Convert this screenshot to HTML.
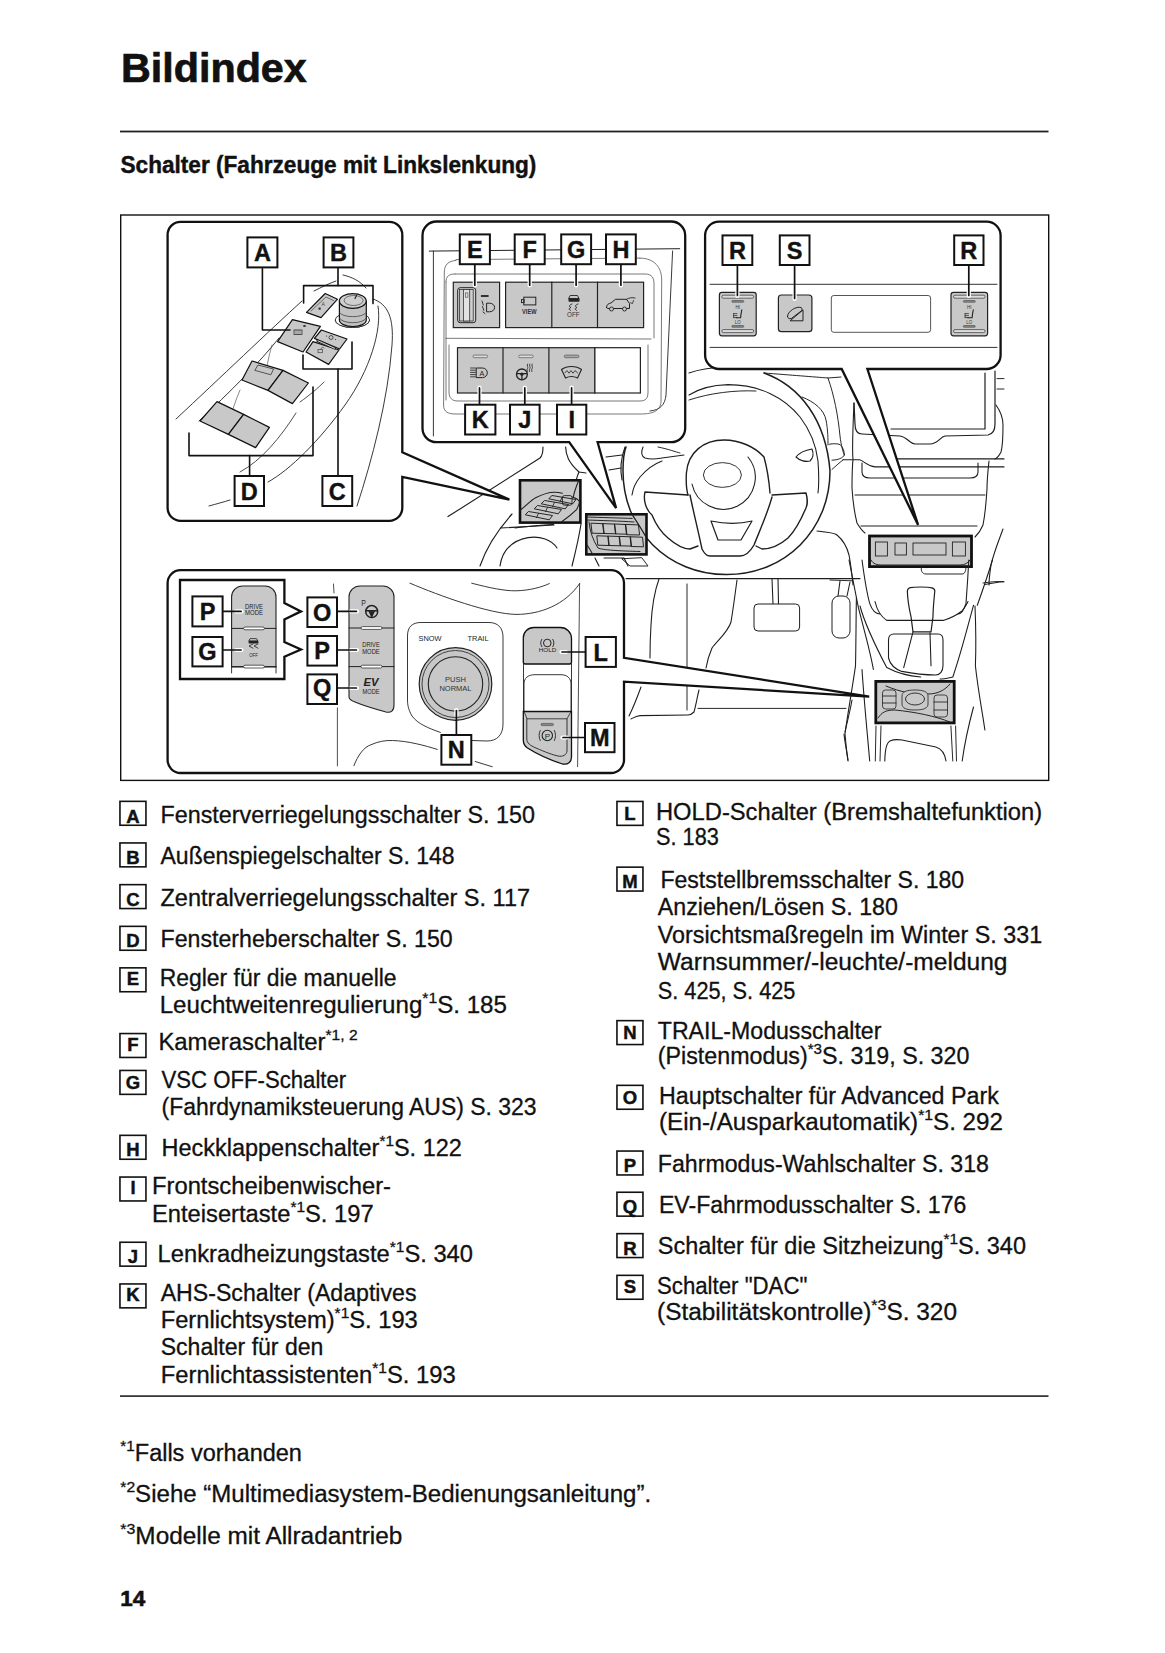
<!DOCTYPE html>
<html><head><meta charset="utf-8"><title>Bildindex</title>
<style>
html,body{margin:0;padding:0;background:#fff;}
body{width:1165px;height:1653px;overflow:hidden;font-family:"Liberation Sans", sans-serif;}
svg{display:block;font-family:"Liberation Sans", sans-serif;}
</style></head><body>
<svg width="1165" height="1653" viewBox="0 0 1165 1653">
<text x="121" y="81.8" font-size="41" font-weight="bold" fill="#111" stroke="#111" stroke-width="0.7" textLength="185.8" lengthAdjust="spacingAndGlyphs" xml:space="preserve"><tspan>Bildindex</tspan></text>
<rect x="120" y="130.6" width="928.5" height="1.8" fill="#222"/>
<text x="120.5" y="172.8" font-size="23.5" font-weight="bold" fill="#111" stroke="#111" stroke-width="0.45" textLength="415.9" lengthAdjust="spacingAndGlyphs" xml:space="preserve"><tspan>Schalter (Fahrzeuge mit Linkslenkung)</tspan></text>
<rect x="120.7" y="215" width="928" height="565.4" fill="none" stroke="#111" stroke-width="1.4"/>
<path d="M543,447 C543,452 542,456 540,458 L448,516.6" fill="none" stroke="#1e1e1e" stroke-width="1.14" stroke-linejoin="round" stroke-linecap="round"/>
<path d="M565.6,447 C566,455 568,462 579,472 L586,473" fill="none" stroke="#1e1e1e" stroke-width="1.14" stroke-linejoin="round" stroke-linecap="round"/>
<path d="M579,472 C576,478 575,485 574,492" fill="none" stroke="#1e1e1e" stroke-width="1.14" stroke-linejoin="round" stroke-linecap="round"/>
<path d="M500.5,528 L554,525" fill="none" stroke="#1e1e1e" stroke-width="1.14" stroke-linejoin="round" stroke-linecap="round"/>
<path d="M480,566 C486,548 496,532 512,514" fill="none" stroke="#1e1e1e" stroke-width="1.14" stroke-linejoin="round" stroke-linecap="round"/>
<path d="M500,566 C502,552 510,541 528,537.6 C540,535.5 552,540 557,548" fill="none" stroke="#1e1e1e" stroke-width="1.14" stroke-linejoin="round" stroke-linecap="round"/>
<path d="M572,566 C576,550 579,537 581,524" fill="none" stroke="#1e1e1e" stroke-width="1.14" stroke-linejoin="round" stroke-linecap="round"/>
<path d="M606,457 L622,455 M609,470 L621,468" fill="none" stroke="#1e1e1e" stroke-width="1.14" stroke-linejoin="round" stroke-linecap="round"/>
<path d="M625,447 C621,458 620,470 622,480" fill="none" stroke="#1e1e1e" stroke-width="1.14" stroke-linejoin="round" stroke-linecap="round"/>
<path d="M595,558 L599,566 M604,558 L624,558 L628,566" fill="none" stroke="#1e1e1e" stroke-width="1.14" stroke-linejoin="round" stroke-linecap="round"/>
<path d="M689,373 C700,369 710,367 726.5,367.5" fill="none" stroke="#1e1e1e" stroke-width="1.08" stroke-linejoin="round" stroke-linecap="round"/>
<path d="M764,373 C800,386 826,420 830,471 C830,530 785,574.6 726.5,574.6 C668,574.6 623,530 623,471 C623,458 624,452 626,447" fill="none" stroke="#1e1e1e" stroke-width="1.50" stroke-linejoin="round" stroke-linecap="round"/>
<path d="M689,395 C700,388 712,385 728,384.6 C760,384.6 785,398 800,417 C810,430 816,445 818,461 C819,475 819,485 818,493" fill="none" stroke="#1e1e1e" stroke-width="1.08" stroke-linejoin="round" stroke-linecap="round"/>
<path d="M689,400 C710,393 735,390 756,391" fill="none" stroke="#1e1e1e" stroke-width="0.96" stroke-linejoin="round" stroke-linecap="round"/>
<path d="M632,495 C633,488 636,482 640,477 C646,470 654,464 662,461" fill="none" stroke="#1e1e1e" stroke-width="1.08" stroke-linejoin="round" stroke-linecap="round"/>
<path d="M688,495 C686,488 686,480 686.4,473 C688,452 704,440 724,440 C740,440 755,447 764,457 C767,468 769,480 770,493" fill="none" stroke="#1e1e1e" stroke-width="1.38" stroke-linejoin="round" stroke-linecap="round"/>
<path d="M692,484 A32,32 0 1 0 748,457" fill="none" stroke="#1e1e1e" stroke-width="1.08" stroke-linejoin="round" stroke-linecap="round"/>
<ellipse cx="722.4" cy="475" rx="19" ry="12.4" fill="none" stroke="#1e1e1e" stroke-width="0.9"/>
<path d="M688,495 L645,492 C643,500 646,510 652,515 C656,525 662,533 668,538 C676,545 684,549 690,549 L698,546" fill="none" stroke="#1e1e1e" stroke-width="1.38" stroke-linejoin="round" stroke-linecap="round"/>
<path d="M772,495 L806,493 C808,500 807,506 806,508 C800,522 794,532 788,538 C780,545 770,549 762,549 L756,546" fill="none" stroke="#1e1e1e" stroke-width="1.38" stroke-linejoin="round" stroke-linecap="round"/>
<path d="M690,495 C693,510 698,530 702,549 C704,553 706,556 710,556 H740 C746,556 750,552 754,545 C760,530 768,512 772,497" fill="none" stroke="#1e1e1e" stroke-width="1.38" stroke-linejoin="round" stroke-linecap="round"/>
<path d="M711,521 C725,524 740,524 752,521 L741,540 H718 Z" fill="none" stroke="#1e1e1e" stroke-width="1.20" stroke-linejoin="round" stroke-linecap="round"/>
<path d="M643,447 C641,452 641,456 645,458 C652,460 656,459 662,458 L684,455" fill="none" stroke="#1e1e1e" stroke-width="1.08" stroke-linejoin="round" stroke-linecap="round"/>
<path d="M658,447 C668,449 676,452 680,453" fill="none" stroke="#1e1e1e" stroke-width="0.96" stroke-linejoin="round" stroke-linecap="round"/>
<path d="M796,457 C800,452 806,450 812,449 C814,454 813,458 810,461 C806,462 800,461 796,457" fill="none" stroke="#1e1e1e" stroke-width="1.08" stroke-linejoin="round" stroke-linecap="round"/>
<path d="M764,373 C790,375 815,377 828,378 L841,377" fill="none" stroke="#1e1e1e" stroke-width="0.96" stroke-linejoin="round" stroke-linecap="round"/>
<path d="M802,397 C815,402 824,410 826,420 C828,430 828,440 828,445" fill="none" stroke="#1e1e1e" stroke-width="0.96" stroke-linejoin="round" stroke-linecap="round"/>
<path d="M626,578.6 H860" fill="none" stroke="#1e1e1e" stroke-width="1.08" stroke-linejoin="round" stroke-linecap="round"/>
<path d="M622,559 L630,566 L648,566 L642,558 Z" fill="none" stroke="#1e1e1e" stroke-width="0.96" stroke-linejoin="round" stroke-linecap="round"/>
<path d="M659,579 C655,590 652,605 651,625 C650,640 650,650 650,658" fill="none" stroke="#1e1e1e" stroke-width="1.08" stroke-linejoin="round" stroke-linecap="round"/>
<path d="M641,687 C637,698 633,708 629,716" fill="none" stroke="#1e1e1e" stroke-width="1.08" stroke-linejoin="round" stroke-linecap="round"/>
<path d="M687,584 V710" fill="none" stroke="#1e1e1e" stroke-width="0.96" stroke-linejoin="round" stroke-linecap="round"/>
<path d="M737,580 C735,595 733,610 731,622 C728,632 718,640 712,648 C709,655 707,662 706,668" fill="none" stroke="#1e1e1e" stroke-width="1.08" stroke-linejoin="round" stroke-linecap="round"/>
<path d="M699,690 C697,698 696,705 694,712 C692,714 690,715 688,715 L640,715.6 C636,716 633,718 631,719" fill="none" stroke="#1e1e1e" stroke-width="1.08" stroke-linejoin="round" stroke-linecap="round"/>
<path d="M698,708.4 H846" fill="none" stroke="#1e1e1e" stroke-width="0.96" stroke-linejoin="round" stroke-linecap="round"/>
<path d="M772,579 L773,604 M778,579 L778.5,604" fill="none" stroke="#1e1e1e" stroke-width="1.08" stroke-linejoin="round" stroke-linecap="round"/>
<rect x="754" y="604" width="45.6" height="27" rx="4" fill="#fff" stroke="#1e1e1e" stroke-width="1"/>
<path d="M840,581 L838,596 M850,582 L847,596" fill="none" stroke="#1e1e1e" stroke-width="1.08" stroke-linejoin="round" stroke-linecap="round"/>
<rect x="832" y="596" width="18" height="42" rx="7" fill="#fff" stroke="#1e1e1e" stroke-width="1"/>
<path d="M852,700 C850,712 847,722 845,732" fill="none" stroke="#1e1e1e" stroke-width="1.08" stroke-linejoin="round" stroke-linecap="round"/>
<path d="M844,734 C845,744 847,752 848,760" fill="none" stroke="#1e1e1e" stroke-width="1.08" stroke-linejoin="round" stroke-linecap="round"/>
<path d="M985,373 V429 H891" fill="none" stroke="#1e1e1e" stroke-width="1.20" stroke-linejoin="round" stroke-linecap="round"/>
<path d="M995,371 V424 C995,430 993,434 988,435 L945,436 C940,437 938,444 930,444 H915 C910,444 907,437 900,436 L862,434 C857,434 855,430 855,424 L854,403" fill="none" stroke="#1e1e1e" stroke-width="1.20" stroke-linejoin="round" stroke-linecap="round"/>
<path d="M996,405 C1001,412 1003,418 1003,425 C1003,436 1003,445 1001,452 C999,456 997,458 995,459" fill="none" stroke="#1e1e1e" stroke-width="1.08" stroke-linejoin="round" stroke-linecap="round"/>
<path d="M997,378.6 H1004 M997,389 H1004" fill="none" stroke="#1e1e1e" stroke-width="0.96" stroke-linejoin="round" stroke-linecap="round"/>
<path d="M843,459.7 H859.7 C864,461 867,466 875,466.9 L1004,466.9" fill="none" stroke="#1e1e1e" stroke-width="1.08" stroke-linejoin="round" stroke-linecap="round"/>
<path d="M896,458.9 H1004" fill="none" stroke="#1e1e1e" stroke-width="1.08" stroke-linejoin="round" stroke-linecap="round"/>
<path d="M828,378 C834,395 838,415 840,436 C841,445 843,452 844.3,455" fill="none" stroke="#1e1e1e" stroke-width="0.96" stroke-linejoin="round" stroke-linecap="round"/>
<path d="M829.4,444.2 C833,443.5 838,443.5 840.2,444.7 C843,447 844.5,452 844.3,455 C843,458 838,460 832,460.2" fill="none" stroke="#1e1e1e" stroke-width="0.96" stroke-linejoin="round" stroke-linecap="round"/>
<path d="M832,469.4 C836,466 840,462 843.3,459.7" fill="none" stroke="#1e1e1e" stroke-width="0.96" stroke-linejoin="round" stroke-linecap="round"/>
<path d="M862,463 V472 C862,476 865,478 870,478 H970 C975,478 978,476 978,472 V463" fill="none" stroke="#1e1e1e" stroke-width="1.08" stroke-linejoin="round" stroke-linecap="round"/>
<path d="M855,495 H985" fill="none" stroke="#1e1e1e" stroke-width="1.08" stroke-linejoin="round" stroke-linecap="round"/>
<path d="M861,526 H977" fill="none" stroke="#1e1e1e" stroke-width="1.08" stroke-linejoin="round" stroke-linecap="round"/>
<path d="M854,403 C853,425 852,450 853,459 C852,470 852,480 852,488 C853,505 855,515 857,523 C860,528 862,531 865,533" fill="none" stroke="#1e1e1e" stroke-width="1.08" stroke-linejoin="round" stroke-linecap="round"/>
<path d="M989,461 C988,470 987,480 987,489 C986,505 985,515 983,525 C981,530 978,534 975,537" fill="none" stroke="#1e1e1e" stroke-width="1.08" stroke-linejoin="round" stroke-linecap="round"/>
<path d="M817,531 C827,532 835,533 837,535 C843,540 847,547 849,555 C851,565 852,575 853,585" fill="none" stroke="#1e1e1e" stroke-width="1.08" stroke-linejoin="round" stroke-linecap="round"/>
<path d="M1003,529 C999,540 994,552 991,565 C990,572 989,578 989,585" fill="none" stroke="#1e1e1e" stroke-width="1.08" stroke-linejoin="round" stroke-linecap="round"/>
<path d="M983,583 C990,582 997,581 1004,581.7" fill="none" stroke="#1e1e1e" stroke-width="0.96" stroke-linejoin="round" stroke-linecap="round"/>
<rect x="869.5" y="536" width="102" height="30.6" fill="#c8c8c8" stroke="#111" stroke-width="2.8"/>
<rect x="875.4" y="542" width="12.0" height="14" fill="#c8c8c8" stroke="#222" stroke-width="0.9"/>
<rect x="895" y="543" width="11.399999999999977" height="12" fill="#c8c8c8" stroke="#222" stroke-width="0.9"/>
<rect x="913" y="543" width="33" height="12" fill="#c8c8c8" stroke="#222" stroke-width="0.9"/>
<rect x="952.4" y="542" width="13.0" height="14" fill="#c8c8c8" stroke="#222" stroke-width="0.9"/>
<path d="M871,560 C873,564 877,565 882,565 H960 C965,565 968,563 970,560" fill="none" stroke="#1e1e1e" stroke-width="0.96" stroke-linejoin="round" stroke-linecap="round"/>
<path d="M922,566 C920,570 922,574 926,574 H962 C965,574 966,571 966,566" fill="none" stroke="#1e1e1e" stroke-width="0.96" stroke-linejoin="round" stroke-linecap="round"/>
<path d="M862,560 C864,575 866,590 869.7,603.4 C872,610 876,614 880,614" fill="none" stroke="#1e1e1e" stroke-width="1.08" stroke-linejoin="round" stroke-linecap="round"/>
<path d="M849,560 C852,575 855,590 858.3,607.2 C864,630 870,650 873.4,669.5" fill="none" stroke="#1e1e1e" stroke-width="1.08" stroke-linejoin="round" stroke-linecap="round"/>
<path d="M968.8,560 C968,575 967,590 966,603.4 C964,610 962,614 958,614" fill="none" stroke="#1e1e1e" stroke-width="1.08" stroke-linejoin="round" stroke-linecap="round"/>
<path d="M992.4,560 C988,575 982,592 977.3,605.3" fill="none" stroke="#1e1e1e" stroke-width="1.08" stroke-linejoin="round" stroke-linecap="round"/>
<path d="M984.9,584.5 C992,583 998,582 1003.7,581.7" fill="none" stroke="#1e1e1e" stroke-width="1.08" stroke-linejoin="round" stroke-linecap="round"/>
<path d="M875,601.5 C877,610 880,616 886.7,620.4 H943.3 C952,618 958,614 962,611 C965,607 967,604 968,601.5" fill="none" stroke="#1e1e1e" stroke-width="1.08" stroke-linejoin="round" stroke-linecap="round"/>
<path d="M907.4,592 C907,587 911,587 921,587 C931,587 935,588 934.8,591 C934,600 933,608 933,616.7 L931,631.8 H913 L911,616.7 C909,608 907.6,600 907.4,592 Z" fill="none" stroke="#1e1e1e" stroke-width="1.20" stroke-linejoin="round" stroke-linecap="round"/>
<path d="M913,631.8 L903.7,667.6 M930,632.7 L931,665.8" fill="none" stroke="#1e1e1e" stroke-width="1.08" stroke-linejoin="round" stroke-linecap="round"/>
<path d="M888.5,658 V640 C888.5,636 890,634 894,634 H938 C942,634 943,636 943,640 V665.8 C943,671 940,675 935.8,675 C925,675 910,673 901.8,671.4 C895,669 890,664 888.5,658 Z" fill="none" stroke="#1e1e1e" stroke-width="1.08" stroke-linejoin="round" stroke-linecap="round"/>
<path d="M860,606 C865,625 875,645 886.7,667.6 C895,672 905,676 920.7,677" fill="none" stroke="#1e1e1e" stroke-width="1.08" stroke-linejoin="round" stroke-linecap="round"/>
<path d="M973.5,605.3 C968,625 962,650 952.8,677 C948,678 944,679 940,679" fill="none" stroke="#1e1e1e" stroke-width="1.08" stroke-linejoin="round" stroke-linecap="round"/>
<path d="M975,606 C976,630 976,650 975.4,665.8 C978,690 982,710 984.9,730" fill="none" stroke="#1e1e1e" stroke-width="1.08" stroke-linejoin="round" stroke-linecap="round"/>
<path d="M856.4,597.8 C856,620 856,645 855.5,665.8 C852,690 848,712 845,733.7 C846,745 847,755 848,761" fill="none" stroke="#1e1e1e" stroke-width="1.08" stroke-linejoin="round" stroke-linecap="round"/>
<path d="M862,669.5 C864,700 867,730 869.7,761" fill="none" stroke="#1e1e1e" stroke-width="1.08" stroke-linejoin="round" stroke-linecap="round"/>
<rect x="875.8" y="681.4" width="78.4" height="41.5" fill="#c8c8c8" stroke="#111" stroke-width="2.8"/>
<path d="M886,686 C900,692 915,695 928,694 C938,694 945,690 950,684" fill="none" stroke="#1e1e1e" stroke-width="0.96" stroke-linejoin="round" stroke-linecap="round"/>
<path d="M878,718 C882,712 886,710 895,710 C915,712 935,716 950,722" fill="none" stroke="#1e1e1e" stroke-width="0.96" stroke-linejoin="round" stroke-linecap="round"/>
<rect x="882.5" y="690" width="13.5" height="19" rx="3" fill="#c8c8c8" stroke="#222" stroke-width="0.8"/>
<path d="M882.5,696 H896 M882.5,703 H896" fill="none" stroke="#1e1e1e" stroke-width="0.84" stroke-linejoin="round" stroke-linecap="round"/>
<rect x="934" y="695" width="13.5" height="22" rx="3" fill="#c8c8c8" stroke="#222" stroke-width="0.8"/>
<path d="M934,702 H947.5 M934,710 H947.5" fill="none" stroke="#1e1e1e" stroke-width="0.84" stroke-linejoin="round" stroke-linecap="round"/>
<path d="M902,696 C902,692 906,690 915,690 C924,690 928,692 928,696 V704 C928,708 924,710 915,710 C906,710 902,708 902,704 Z" fill="#c8c8c8" stroke="#222" stroke-width="0.8"/>
<ellipse cx="915" cy="699" rx="9.5" ry="6" fill="#c8c8c8" stroke="#222" stroke-width="0.9"/>
<path d="M876,726 L875.3,761 M881,726 L880,761" fill="none" stroke="#1e1e1e" stroke-width="0.96" stroke-linejoin="round" stroke-linecap="round"/>
<path d="M884.8,761 C885,750 886,743 890,741 C894,739 898,739.4 902,740 L935.8,747 C942,749 945,754 946,761" fill="none" stroke="#1e1e1e" stroke-width="1.08" stroke-linejoin="round" stroke-linecap="round"/>
<path d="M950.9,726 L952.8,761 M955.6,726 L956.5,761" fill="none" stroke="#1e1e1e" stroke-width="0.96" stroke-linejoin="round" stroke-linecap="round"/>
<path d="M962.2,761 C965,740 970,720 973.5,707" fill="none" stroke="#1e1e1e" stroke-width="1.08" stroke-linejoin="round" stroke-linecap="round"/>
<path d="M852.7,580.8 L830,580" fill="none" stroke="#1e1e1e" stroke-width="0.96" stroke-linejoin="round" stroke-linecap="round"/>
<rect x="520" y="480.3" width="60.4" height="42.3" fill="#c8c8c8" stroke="#111" stroke-width="2.6"/>
<path d="M519.5,510.7 C526,506 531,500 535.6,497.7 C543,494 549,492 554.8,492.2 C558,492.3 560,492.7 562.4,493.2" fill="none" stroke="#1e1e1e" stroke-width="1.08" stroke-linejoin="round" stroke-linecap="round"/>
<path d="M572,497 C576,498 579,500 579.5,502 C579,505 578,507 576.8,509.3 C572,514 567,518 561.7,521.7" fill="none" stroke="#1e1e1e" stroke-width="1.08" stroke-linejoin="round" stroke-linecap="round"/>
<path d="M578.9,480 C576,487 574,492 573.4,497" fill="none" stroke="#1e1e1e" stroke-width="1.08" stroke-linejoin="round" stroke-linecap="round"/>
<rect x="562.4" y="495.6" width="9.6" height="9.6" rx="2" fill="#c8c8c8" stroke="#222" stroke-width="0.9"/>
<path d="M525.5,514.5 L528.5,511.5 L552.5,515.5 L549.5,519.5 Z" fill="none" stroke="#1e1e1e" stroke-width="0.96" stroke-linejoin="round" stroke-linecap="round"/>
<path d="M538.5,513.5 L536.5,517.5" fill="none" stroke="#1e1e1e" stroke-width="0.84" stroke-linejoin="round" stroke-linecap="round"/>
<path d="M534.5,508.5 L537.5,505.5 L561.5,509.5 L558.5,513.5 Z" fill="none" stroke="#1e1e1e" stroke-width="0.96" stroke-linejoin="round" stroke-linecap="round"/>
<path d="M547.5,507.5 L545.5,511.5" fill="none" stroke="#1e1e1e" stroke-width="0.84" stroke-linejoin="round" stroke-linecap="round"/>
<path d="M541.5,503.5 L544.5,500.5 L568.5,504.5 L565.5,508.5 Z" fill="none" stroke="#1e1e1e" stroke-width="0.96" stroke-linejoin="round" stroke-linecap="round"/>
<path d="M554.5,502.5 L552.5,506.5" fill="none" stroke="#1e1e1e" stroke-width="0.84" stroke-linejoin="round" stroke-linecap="round"/>
<path d="M549,498.5 L552,495.5 L576,499.5 L573,503.5 Z" fill="none" stroke="#1e1e1e" stroke-width="0.96" stroke-linejoin="round" stroke-linecap="round"/>
<path d="M562,497.5 L560,501.5" fill="none" stroke="#1e1e1e" stroke-width="0.84" stroke-linejoin="round" stroke-linecap="round"/>
<path d="M515,527.9 C530,526 545,525 553.5,524.4" fill="none" stroke="#1e1e1e" stroke-width="1.08" stroke-linejoin="round" stroke-linecap="round"/>
<rect x="586.3" y="514.3" width="60.2" height="40.1" fill="#c8c8c8" stroke="#111" stroke-width="2.6"/>
<path d="M587.2,517 C600,517.5 620,518 632.2,518.4" fill="none" stroke="#1e1e1e" stroke-width="0.96" stroke-linejoin="round" stroke-linecap="round"/>
<path d="M587.2,520 C600,520.5 620,521 634,522" fill="none" stroke="#1e1e1e" stroke-width="0.96" stroke-linejoin="round" stroke-linecap="round"/>
<path d="M589,522 C590,532 593,540 598,548 C602,550 620,551 640,551.5" fill="none" stroke="#1e1e1e" stroke-width="0.96" stroke-linejoin="round" stroke-linecap="round"/>
<path d="M591.3,523.2 L603,523.7 L604.2,533.5 L592.5,533.2 Z" fill="none" stroke="#1e1e1e" stroke-width="0.96" stroke-linejoin="round" stroke-linecap="round"/>
<path d="M603,523.6 L614.7,524.1 L615.9000000000001,533.8 L604.2,533.5 Z" fill="none" stroke="#1e1e1e" stroke-width="0.96" stroke-linejoin="round" stroke-linecap="round"/>
<path d="M614.7,524 L625.7,524.5 L626.9000000000001,534.2 L615.9000000000001,533.9000000000001 Z" fill="none" stroke="#1e1e1e" stroke-width="0.96" stroke-linejoin="round" stroke-linecap="round"/>
<path d="M625.7,524.4 L638.4,524.9 L639.6,535 L626.9000000000001,534.7 Z" fill="none" stroke="#1e1e1e" stroke-width="0.96" stroke-linejoin="round" stroke-linecap="round"/>
<path d="M597.2,535.8 L608.2,536.1999999999999 L609.2,545.5 L598.2,545.2 Z" fill="none" stroke="#1e1e1e" stroke-width="0.96" stroke-linejoin="round" stroke-linecap="round"/>
<path d="M608.2,536.1 L619.5,536.5 L620.5,545.8 L609.2,545.5 Z" fill="none" stroke="#1e1e1e" stroke-width="0.96" stroke-linejoin="round" stroke-linecap="round"/>
<path d="M619.5,536.4 L630.5,536.8 L631.5,546.1 L620.5,545.8000000000001 Z" fill="none" stroke="#1e1e1e" stroke-width="0.96" stroke-linejoin="round" stroke-linecap="round"/>
<path d="M630.5,536.8 L642.5,537.1999999999999 L643.5,546.8 L631.5,546.5 Z" fill="none" stroke="#1e1e1e" stroke-width="0.96" stroke-linejoin="round" stroke-linecap="round"/>
<path d="M632.2,514.6 C637,522 642,530 645.9,536.6" fill="none" stroke="#1e1e1e" stroke-width="1.20" stroke-linejoin="round" stroke-linecap="round"/>
<path d="M586.9,544.8 C589,548 591,551 592.7,554.4" fill="none" stroke="#1e1e1e" stroke-width="1.08" stroke-linejoin="round" stroke-linecap="round"/>
<path d="M180.6,221.8 H389.3 A13,13 0 0 1 402.3,234.8 V452.3 L509.4,499.6 L402.3,476.9 V507.79999999999995 A13,13 0 0 1 389.3,520.8 H180.6 A13,13 0 0 1 167.6,507.79999999999995 V234.8 A13,13 0 0 1 180.6,221.8 Z" fill="#fff" stroke="#111" stroke-width="2.3" stroke-linejoin="miter"/>
<path d="M436.5,221.5 H671.2 A14,14 0 0 1 685.2,235.5 V428.2 A14,14 0 0 1 671.2,442.2 H597.6 L616.1,508.1 L569.2,442.2 H436.5 A14,14 0 0 1 422.5,428.2 V235.5 A14,14 0 0 1 436.5,221.5 Z" fill="#fff" stroke="#111" stroke-width="2.3"/>
<path d="M719.1,221.6 H986.6 A14,14 0 0 1 1000.6,235.6 V355 A14,14 0 0 1 986.6,369 H867.4 L918.1,524.9 L841.7,369 H719.1 A14,14 0 0 1 705.1,355 V235.6 A14,14 0 0 1 719.1,221.6 Z" fill="#fff" stroke="#111" stroke-width="2.3"/>
<path d="M180.6,570.2 H611 A13,13 0 0 1 624,583.2 V657.8 L869.2,696.6 L624,681.6 V760 A13,13 0 0 1 611,773 H180.6 A13,13 0 0 1 167.6,760 V583.2 A13,13 0 0 1 180.6,570.2 Z" fill="#fff" stroke="#111" stroke-width="2.3"/>
<path d="M176,419 C220,378 270,330 302,301" fill="none" stroke="#222" stroke-width="0.9" stroke-linejoin="round" stroke-linecap="round"/>
<path d="M199,421 C230,392 260,362 279,338" fill="none" stroke="#222" stroke-width="0.9" stroke-linejoin="round" stroke-linecap="round"/>
<path d="M314,291 C322,287 330,283 336,281" fill="none" stroke="#222" stroke-width="0.9" stroke-linejoin="round" stroke-linecap="round"/>
<path d="M343,275 C352,277 360,281 366,288" fill="none" stroke="#222" stroke-width="0.9" stroke-linejoin="round" stroke-linecap="round"/>
<path d="M373,299 C388,304 394,318 392,345 C388,400 372,460 357,506" fill="none" stroke="#222" stroke-width="0.9" stroke-linejoin="round" stroke-linecap="round"/>
<path d="M378,306 C382,330 370,370 345,405 C320,440 290,470 268,482" fill="none" stroke="#222" stroke-width="0.9" stroke-linejoin="round" stroke-linecap="round"/>
<path d="M209,506 C216,504 224,502 230,500" fill="none" stroke="#222" stroke-width="0.9" stroke-linejoin="round" stroke-linecap="round"/>
<path d="M230,420 C232,410 236,400 240,390" fill="none" stroke="#555" stroke-width="0.7" stroke-linejoin="round" stroke-linecap="round"/>
<path d="M272,345 C270,352 268,360 266,372" fill="none" stroke="#555" stroke-width="0.7" stroke-linejoin="round" stroke-linecap="round"/>
<path d="M300,402 C310,395 318,388 324,382" fill="none" stroke="#222" stroke-width="0.8" stroke-linejoin="round" stroke-linecap="round"/>
<path d="M296,413 C280,438 262,460 240,472" fill="none" stroke="#222" stroke-width="0.8" stroke-linejoin="round" stroke-linecap="round"/>
<path d="M306.5,312.4 L325.2,293.5 L337.5,299.2 L321.0,317.6 Z" fill="#c8c8c8" stroke="#111" stroke-width="1.2" stroke-linejoin="round" stroke-linecap="round"/>
<path d="M311,311 L326,297 L333.5,300.5" fill="none" stroke="#444" stroke-width="0.7" stroke-linejoin="round" stroke-linecap="round"/>
<text x="321.5" y="306" font-size="5" fill="#444">A</text>
<rect x="318.5" y="307.5" width="2.2" height="2.2" fill="#333"/>
<path d="M335.2,320 A17.2,7.5 0 0 0 369.6,320" fill="none" stroke="#222" stroke-width="1"/>
<ellipse cx="352.4" cy="320" rx="17.2" ry="7.5" fill="#fff" stroke="#222" stroke-width="0.9"/>
<path d="M339.4,301 V320 A13.45,6.5 0 0 0 366.3,320 V301 Z" fill="#c2c2c2" stroke="#111" stroke-width="1.2"/>
<path d="M339.6,312.4 A13.4,5 0 0 0 366.1,312.4 M339.6,318 A13.4,5.5 0 0 0 366.1,318" fill="none" stroke="#444" stroke-width="0.8"/>
<ellipse cx="352.8" cy="301" rx="13.4" ry="7.3" fill="#cfcfcf" stroke="#111" stroke-width="1.2"/>
<ellipse cx="353.6" cy="300.5" rx="9.5" ry="5" fill="none" stroke="#444" stroke-width="0.7"/>
<path d="M356.5,295.5 L355,298.5" fill="none" stroke="#222" stroke-width="1.2" stroke-linejoin="round" stroke-linecap="round"/>
<path d="M277.6,341.6 L292.4,319.6 L320.4,326.4 L303.0,352.0 Z" fill="#c8c8c8" stroke="#111" stroke-width="1.2" stroke-linejoin="round" stroke-linecap="round"/>
<rect x="294" y="330" width="8" height="4.5" fill="none" stroke="#333" stroke-width="0.8"/>
<path d="M296,330 V334.5 M298,330 V334.5 M300,330 V334.5" fill="none" stroke="#444" stroke-width="0.5" stroke-linejoin="round" stroke-linecap="round"/>
<ellipse cx="304.5" cy="326" rx="1.5" ry="0.9" fill="#333"/>
<path d="M314.4,338.4 L321.4,330.0 L347.0,339.0 L339.6,349.0 Z" fill="#c8c8c8" stroke="#111" stroke-width="1.2" stroke-linejoin="round" stroke-linecap="round"/>
<path d="M306.0,352.0 L313.0,341.6 L339.0,350.0 L328.6,364.4 Z" fill="#c8c8c8" stroke="#111" stroke-width="1.2" stroke-linejoin="round" stroke-linecap="round"/>
<path d="M317.5,340.8 L335,348.5" fill="none" stroke="#222" stroke-width="2.4" stroke-linejoin="round" stroke-linecap="round"/>
<path d="M318,340.8 L334.5,348.3" fill="none" stroke="#ddd" stroke-width="1.0" stroke-linejoin="round" stroke-linecap="round"/>
<circle cx="331" cy="337.5" r="2" fill="none" stroke="#333" stroke-width="0.8"/>
<circle cx="326.5" cy="336" r="0.6" fill="#333"/>
<circle cx="335.5" cy="339.5" r="0.6" fill="#333"/>
<rect x="318" y="349.5" width="4.5" height="3.2" fill="none" stroke="#444" stroke-width="0.7"/>
<path d="M321,349.5 C321,347 323.5,346.5 324,348" fill="none" stroke="#444" stroke-width="0.7" stroke-linejoin="round" stroke-linecap="round"/>
<path d="M242.0,380.0 L252.0,361.0 L283.0,370.4 L268.0,390.4 Z" fill="#c8c8c8" stroke="#111" stroke-width="1.2" stroke-linejoin="round" stroke-linecap="round"/>
<path d="M268.0,390.4 L283.0,370.4 L308.4,383.0 L292.4,403.6 Z" fill="#c8c8c8" stroke="#111" stroke-width="1.2" stroke-linejoin="round" stroke-linecap="round"/>
<path d="M200.0,421.0 L217.0,401.6 L243.6,414.4 L228.4,434.4 Z" fill="#c8c8c8" stroke="#111" stroke-width="1.2" stroke-linejoin="round" stroke-linecap="round"/>
<path d="M228.4,434.4 L243.6,414.4 L269.4,427.4 L255.6,447.6 Z" fill="#c8c8c8" stroke="#111" stroke-width="1.2" stroke-linejoin="round" stroke-linecap="round"/>
<path d="M255.0,370.0 L258.0,365.0 L273.6,369.0 L271.0,374.4 Z" fill="none" stroke="#333" stroke-width="0.8" stroke-linejoin="round" stroke-linecap="round"/>
<path d="M262.4,268.4 L262.4,330.0 L290.0,330.0" fill="none" stroke="#111" stroke-width="1.6" stroke-linejoin="round" stroke-linecap="round"/>
<path d="M338.0,268.4 L338.0,285.6" fill="none" stroke="#111" stroke-width="1.6" stroke-linejoin="round" stroke-linecap="round"/>
<path d="M303.6,303.0 L303.6,285.6 L373.0,285.6 L373.0,303.6" fill="none" stroke="#111" stroke-width="1.6" stroke-linejoin="round" stroke-linecap="round"/>
<path d="M303.0,355.0 L303.0,369.0 L352.0,369.0 L352.0,342.0" fill="none" stroke="#111" stroke-width="1.6" stroke-linejoin="round" stroke-linecap="round"/>
<path d="M338.0,369.0 L338.0,475.0" fill="none" stroke="#111" stroke-width="1.6" stroke-linejoin="round" stroke-linecap="round"/>
<path d="M189.0,433.0 L189.0,455.6 L313.0,455.6 L313.0,387.0" fill="none" stroke="#111" stroke-width="1.6" stroke-linejoin="round" stroke-linecap="round"/>
<path d="M249.6,455.6 L249.6,475.0" fill="none" stroke="#111" stroke-width="1.6" stroke-linejoin="round" stroke-linecap="round"/>
<rect x="247.4" y="237.4" width="29.99999999999997" height="29.99999999999997" fill="#fff" stroke="#111" stroke-width="2"/>
<text x="262.4" y="261.0" font-size="23.5" font-weight="bold" text-anchor="middle" fill="#111" stroke="#111" stroke-width="0.4">A</text>
<rect x="323.6" y="237.4" width="29.799999999999955" height="29.99999999999997" fill="#fff" stroke="#111" stroke-width="2"/>
<text x="338.5" y="261.0" font-size="23.5" font-weight="bold" text-anchor="middle" fill="#111" stroke="#111" stroke-width="0.4">B</text>
<rect x="234.6" y="476" width="29.400000000000006" height="30" fill="#fff" stroke="#111" stroke-width="2"/>
<text x="249.3" y="499.6" font-size="23.5" font-weight="bold" text-anchor="middle" fill="#111" stroke="#111" stroke-width="0.4">D</text>
<rect x="322.4" y="476" width="29.80000000000001" height="30" fill="#fff" stroke="#111" stroke-width="2"/>
<text x="337.29999999999995" y="499.6" font-size="23.5" font-weight="bold" text-anchor="middle" fill="#111" stroke="#111" stroke-width="0.4">C</text>
<path d="M429.3,251.1 L679.7,248.7" fill="none" stroke="#222" stroke-width="1.0" stroke-linejoin="round" stroke-linecap="round"/>
<path d="M433.4,251.1 V436" fill="none" stroke="#222" stroke-width="0.9" stroke-linejoin="round" stroke-linecap="round"/>
<path d="M672.6,251 L666,395 C665,405 660,410 650,411" fill="none" stroke="#222" stroke-width="0.9" stroke-linejoin="round" stroke-linecap="round"/>
<path d="M456,260.4 C448,261 444.5,265 444.3,272 L443.6,405 C443.6,412 448,414 456,414 H640 C655,414 660,410 661,402 L661.7,280 C661.7,268 655,258.1 639.8,258.1" fill="none" stroke="#555" stroke-width="0.8" stroke-linejoin="round" stroke-linecap="round"/>
<path d="M456,259.6 L639.8,258.1" fill="none" stroke="#555" stroke-width="0.8" stroke-linejoin="round" stroke-linecap="round"/>
<path d="M455,274 H645 C652,274 654,278 654,284 V338" fill="none" stroke="#555" stroke-width="0.8" stroke-linejoin="round" stroke-linecap="round"/>
<path d="M446,282 C446,276 449,274 455,274" fill="none" stroke="#555" stroke-width="0.8" stroke-linejoin="round" stroke-linecap="round"/>
<path d="M446,282 V400" fill="none" stroke="#555" stroke-width="0.8" stroke-linejoin="round" stroke-linecap="round"/>
<path d="M445.7,338.3 L651,339" fill="none" stroke="#555" stroke-width="0.8" stroke-linejoin="round" stroke-linecap="round"/>
<path d="M449,345 V392 C449,398 452,401 458,401 H640 C646,401 648,398 648,392 V345" fill="none" stroke="#555" stroke-width="0.8" stroke-linejoin="round" stroke-linecap="round"/>
<rect x="453.3" y="282.2" width="46.3" height="45.4" fill="#c8c8c8" stroke="#222" stroke-width="1.2"/>
<rect x="505.6" y="282.2" width="138" height="45.4" fill="#c8c8c8" stroke="#222" stroke-width="1.2"/>
<path d="M551.8,282.2 V327.6" fill="none" stroke="#222" stroke-width="1.2" stroke-linejoin="round" stroke-linecap="round"/>
<path d="M597.5,282.2 V327.6" fill="none" stroke="#222" stroke-width="1.2" stroke-linejoin="round" stroke-linecap="round"/>
<rect x="457.5" y="347.7" width="137.4" height="45.3" fill="#c8c8c8" stroke="#222" stroke-width="1.2"/>
<rect x="594.9" y="347.7" width="45.5" height="45.3" fill="#fff" stroke="#222" stroke-width="1.2"/>
<path d="M503,347.7 V393" fill="none" stroke="#222" stroke-width="1.2" stroke-linejoin="round" stroke-linecap="round"/>
<path d="M548.9,347.7 V393" fill="none" stroke="#222" stroke-width="1.2" stroke-linejoin="round" stroke-linecap="round"/>
<rect x="473.0" y="355.1" width="14.6" height="2.6" rx="1.2" fill="#ddd" stroke="#555" stroke-width="0.7"/>
<rect x="518.7" y="355.1" width="14.6" height="2.6" rx="1.2" fill="#ddd" stroke="#555" stroke-width="0.7"/>
<rect x="564.3000000000001" y="355.1" width="14.6" height="2.6" rx="1.2" fill="#aaa" stroke="#555" stroke-width="0.7"/>
<rect x="457.7" y="287.7" width="18" height="35" rx="2.5" fill="#d4d4d4" stroke="#222" stroke-width="1"/>
<rect x="459.4" y="289.5" width="13.8" height="31.5" fill="#cfcfcf" stroke="#333" stroke-width="0.8"/>
<rect x="463.5" y="289.5" width="6.2" height="31.5" fill="#e2e2e2" stroke="#333" stroke-width="0.8"/>
<rect x="465.3" y="292.9" width="2.6" height="4.3" fill="none" stroke="#444" stroke-width="0.6"/>
<rect x="480.9" y="295.1" width="7.7" height="1.8" fill="#222"/>
<path d="M487,303.2 H489.5 C492.5,303.2 494.6,305.2 494.6,307.5 C494.6,309.8 492.5,311.8 489.5,311.8 H487 Z" fill="none" stroke="#222" stroke-width="1.0" stroke-linejoin="round" stroke-linecap="round"/>
<path d="M482,301 L483.3,305 M482.5,306.5 L483.8,310.5 M483,312 L485,313.5" fill="none" stroke="#222" stroke-width="0.9" stroke-linejoin="round" stroke-linecap="round"/>
<rect x="523.8" y="297.2" width="12" height="7.7" fill="none" stroke="#222" stroke-width="1"/>
<rect x="521.5" y="299.6" width="2.6" height="3" fill="none" stroke="#222" stroke-width="0.9"/>
<text x="529.3" y="313.5" font-size="6.6" font-weight="bold" text-anchor="middle" fill="#333" textLength="14.5" lengthAdjust="spacingAndGlyphs">VIEW</text>
<path d="M570.5,295.5 H577.5 L579,298.5 H569 Z" fill="none" stroke="#222" stroke-width="0.9" stroke-linejoin="round" stroke-linecap="round"/>
<rect x="568.5" y="298.3" width="11" height="3.4" rx="0.8" fill="#222"/>
<path d="M572,304 C569,305 568.5,306.5 571,307.5 C568.5,308.5 568.5,309.5 570.5,310.3 M578,304 C575,305 574.5,306.5 577,307.5 C574.5,308.5 574.5,309.5 576.5,310.3" fill="none" stroke="#222" stroke-width="0.9" stroke-linejoin="round" stroke-linecap="round"/>
<text x="573.3" y="317" font-size="7" text-anchor="middle" fill="#333" textLength="12.5" lengthAdjust="spacingAndGlyphs">OFF</text>
<path d="M606.5,307.5 C606.5,304.5 608.5,303.5 611,303 L615.5,299.3 H626.5 L629.5,303.5 V308.5 H609 C607.5,308.5 606.5,308.3 606.5,307.5 Z" fill="none" stroke="#222" stroke-width="1.0" stroke-linejoin="round" stroke-linecap="round"/>
<circle cx="611.5" cy="309" r="2" fill="#c8c8c8" stroke="#222" stroke-width="0.9"/>
<circle cx="624.5" cy="309" r="2" fill="#c8c8c8" stroke="#222" stroke-width="0.9"/>
<path d="M626.5,299.3 C629,297.8 632,297.2 635,298" fill="none" stroke="#222" stroke-width="0.9" stroke-linejoin="round" stroke-linecap="round"/>
<path d="M633.5,300.5 L632.5,303.5 L630.5,302.8" fill="none" stroke="#222" stroke-width="0.8" stroke-linejoin="round" stroke-linecap="round"/>
<path d="M470.5,368 H475.4 M470.5,370.2 H475.4 M470.5,372.4 H475.4 M470.5,374.6 H475.4 M470.5,376.8 H475.4" fill="none" stroke="#222" stroke-width="0.8" stroke-linejoin="round" stroke-linecap="round"/>
<path d="M476.6,368 H482.5 A4.8,4.8 0 0 1 482.5,377.6 H476.6 Z" fill="none" stroke="#222" stroke-width="1.0" stroke-linejoin="round" stroke-linecap="round"/>
<text x="481.8" y="375.6" font-size="7.2" text-anchor="middle" fill="#222">A</text>
<circle cx="521.9" cy="374.4" r="5.4" fill="none" stroke="#222" stroke-width="1.3"/>
<path d="M516.8,373.6 H527 M521.9,373.6 V379.5" fill="none" stroke="#222" stroke-width="1.3" stroke-linejoin="round" stroke-linecap="round"/>
<circle cx="521.9" cy="374.2" r="1.6" fill="#222"/>
<path d="M527.5,364 C526.3,365.5 528.7,367 527.5,368.5 C526.5,369.6 527.8,370.6 527.3,371.6 M529.8,364 C528.6,365.5 531,367 529.8,368.5 C528.8,369.6 530.1,370.6 529.6,371.6 M532.1,364 C530.9,365.5 533.3,367 532.1,368.5 C531.1,369.6 532.4,370.6 531.9,371.6" fill="none" stroke="#222" stroke-width="0.8" stroke-linejoin="round" stroke-linecap="round"/>
<path d="M561.5,369.5 C567,365.5 576,365.5 581.5,369.5 L577.5,378 C573,375.8 570,375.8 565.5,378 Z" fill="none" stroke="#222" stroke-width="1.1" stroke-linejoin="round" stroke-linecap="round"/>
<path d="M565,372.8 L567,370.6 L569,373.2 L571,370.6 L573,373.2 L575,370.6 L577.5,372.8" fill="none" stroke="#222" stroke-width="0.8" stroke-linejoin="round" stroke-linecap="round"/>
<path d="M474.8,281.0 L474.8,285.5" fill="none" stroke="#fff" stroke-width="4.2" stroke-linejoin="round" stroke-linecap="round"/>
<path d="M474.8,265.2 L474.8,285.2" fill="none" stroke="#111" stroke-width="1.7" stroke-linejoin="round" stroke-linecap="round"/>
<path d="M529.7,281.0 L529.7,285.5" fill="none" stroke="#fff" stroke-width="4.2" stroke-linejoin="round" stroke-linecap="round"/>
<path d="M529.7,265.2 L529.7,285.2" fill="none" stroke="#111" stroke-width="1.7" stroke-linejoin="round" stroke-linecap="round"/>
<path d="M576.1,281.0 L576.1,285.5" fill="none" stroke="#fff" stroke-width="4.2" stroke-linejoin="round" stroke-linecap="round"/>
<path d="M576.1,265.2 L576.1,285.2" fill="none" stroke="#111" stroke-width="1.7" stroke-linejoin="round" stroke-linecap="round"/>
<path d="M620.9,281.0 L620.9,285.5" fill="none" stroke="#fff" stroke-width="4.2" stroke-linejoin="round" stroke-linecap="round"/>
<path d="M620.9,265.2 L620.9,285.2" fill="none" stroke="#111" stroke-width="1.7" stroke-linejoin="round" stroke-linecap="round"/>
<path d="M479.5,394.5 L479.5,387.5" fill="none" stroke="#fff" stroke-width="4.2" stroke-linejoin="round" stroke-linecap="round"/>
<path d="M479.5,403.7 L479.5,387.9" fill="none" stroke="#111" stroke-width="1.7" stroke-linejoin="round" stroke-linecap="round"/>
<path d="M524.8,394.5 L524.8,387.5" fill="none" stroke="#fff" stroke-width="4.2" stroke-linejoin="round" stroke-linecap="round"/>
<path d="M524.8,403.7 L524.8,387.9" fill="none" stroke="#111" stroke-width="1.7" stroke-linejoin="round" stroke-linecap="round"/>
<path d="M571.6,394.5 L571.6,387.5" fill="none" stroke="#fff" stroke-width="4.2" stroke-linejoin="round" stroke-linecap="round"/>
<path d="M571.6,403.7 L571.6,387.9" fill="none" stroke="#111" stroke-width="1.7" stroke-linejoin="round" stroke-linecap="round"/>
<rect x="459.8" y="234.4" width="30.099999999999966" height="29.799999999999983" fill="#fff" stroke="#111" stroke-width="2"/>
<text x="474.85" y="257.90000000000003" font-size="23.5" font-weight="bold" text-anchor="middle" fill="#111" stroke="#111" stroke-width="0.4">E</text>
<rect x="514.7" y="234.4" width="30.0" height="29.799999999999983" fill="#fff" stroke="#111" stroke-width="2"/>
<text x="529.7" y="257.90000000000003" font-size="23.5" font-weight="bold" text-anchor="middle" fill="#111" stroke="#111" stroke-width="0.4">F</text>
<rect x="561.2" y="234.4" width="29.899999999999977" height="29.799999999999983" fill="#fff" stroke="#111" stroke-width="2"/>
<text x="576.1500000000001" y="257.90000000000003" font-size="23.5" font-weight="bold" text-anchor="middle" fill="#111" stroke="#111" stroke-width="0.4">G</text>
<rect x="606" y="234.4" width="29.799999999999955" height="29.799999999999983" fill="#fff" stroke="#111" stroke-width="2"/>
<text x="620.9" y="257.90000000000003" font-size="23.5" font-weight="bold" text-anchor="middle" fill="#111" stroke="#111" stroke-width="0.4">H</text>
<rect x="465.1" y="404.7" width="30.299999999999955" height="29.80000000000001" fill="#fff" stroke="#111" stroke-width="2"/>
<text x="480.25" y="428.20000000000005" font-size="23.5" font-weight="bold" text-anchor="middle" fill="#111" stroke="#111" stroke-width="0.4">K</text>
<rect x="510" y="404.7" width="29.600000000000023" height="29.80000000000001" fill="#fff" stroke="#111" stroke-width="2"/>
<text x="524.8" y="428.20000000000005" font-size="23.5" font-weight="bold" text-anchor="middle" fill="#111" stroke="#111" stroke-width="0.4">J</text>
<rect x="557" y="404.7" width="29.299999999999955" height="29.80000000000001" fill="#fff" stroke="#111" stroke-width="2"/>
<text x="571.65" y="428.20000000000005" font-size="23.5" font-weight="bold" text-anchor="middle" fill="#111" stroke="#111" stroke-width="0.4">I</text>
<path d="M710,284.3 H997" fill="none" stroke="#333" stroke-width="1.0" stroke-linejoin="round" stroke-linecap="round"/>
<path d="M710,347.4 H997" fill="none" stroke="#333" stroke-width="1.0" stroke-linejoin="round" stroke-linecap="round"/>
<rect x="719.4" y="292.3" width="36.80000000000007" height="43.5" rx="2.5" fill="#c8c8c8" stroke="#222" stroke-width="1.2"/>
<rect x="721.9" y="295.2" width="31.800000000000068" height="3" rx="1.5" fill="#ddd" stroke="#333" stroke-width="0.7"/>
<rect x="721.9" y="329.6" width="31.800000000000068" height="3" rx="1.5" fill="#ddd" stroke="#333" stroke-width="0.7"/>
<rect x="731.8" y="300.5" width="12" height="1.8" rx="0.9" fill="#888" stroke="#333" stroke-width="0.5"/>
<rect x="731.8" y="325.5" width="12" height="1.8" rx="0.9" fill="#888" stroke="#333" stroke-width="0.5"/>
<text x="737.8" y="308.5" font-size="4.5" text-anchor="middle" fill="#333">HI</text>
<text x="737.8" y="323.5" font-size="4.5" text-anchor="middle" fill="#333">LO</text>
<path d="M741.8,309.8 C741.3,312 740.8,315 740.5999999999999,317.8 H736.3" fill="none" stroke="#222" stroke-width="1.1" stroke-linejoin="round" stroke-linecap="round"/>
<path d="M733.5999999999999,313.6 H737.0 M733.5999999999999,315.6 H737.0 M733.5999999999999,317.6 H737.0 M733.5999999999999,313.6 V317.6" fill="none" stroke="#222" stroke-width="0.7" stroke-linejoin="round" stroke-linecap="round"/>
<rect x="951" y="292.3" width="36.60000000000002" height="43.5" rx="2.5" fill="#c8c8c8" stroke="#222" stroke-width="1.2"/>
<rect x="953.5" y="295.2" width="31.600000000000023" height="3" rx="1.5" fill="#ddd" stroke="#333" stroke-width="0.7"/>
<rect x="953.5" y="329.6" width="31.600000000000023" height="3" rx="1.5" fill="#ddd" stroke="#333" stroke-width="0.7"/>
<rect x="963.3" y="300.5" width="12" height="1.8" rx="0.9" fill="#888" stroke="#333" stroke-width="0.5"/>
<rect x="963.3" y="325.5" width="12" height="1.8" rx="0.9" fill="#888" stroke="#333" stroke-width="0.5"/>
<text x="969.3" y="308.5" font-size="4.5" text-anchor="middle" fill="#333">HI</text>
<text x="969.3" y="323.5" font-size="4.5" text-anchor="middle" fill="#333">LO</text>
<path d="M973.3,309.8 C972.8,312 972.3,315 972.0999999999999,317.8 H967.8" fill="none" stroke="#222" stroke-width="1.1" stroke-linejoin="round" stroke-linecap="round"/>
<path d="M965.0999999999999,313.6 H968.5 M965.0999999999999,315.6 H968.5 M965.0999999999999,317.6 H968.5 M965.0999999999999,313.6 V317.6" fill="none" stroke="#222" stroke-width="0.7" stroke-linejoin="round" stroke-linecap="round"/>
<rect x="778.4" y="295" width="33.5" height="36.7" rx="3" fill="#c8c8c8" stroke="#222" stroke-width="1.2"/>
<path d="M790.5,320.8 H803 V310.3 Z" fill="none" stroke="#222" stroke-width="1.0" stroke-linejoin="round" stroke-linecap="round"/>
<path d="M787.5,316.5 C787.5,314 789.5,311.5 792.5,309.5 C795.5,307.5 799,306.8 801,307.5 C802.5,308.3 802.3,310 801.2,311 L791.2,318.6 C789.5,319 787.5,318.5 787.5,316.5 Z" fill="none" stroke="#222" stroke-width="1.0" stroke-linejoin="round" stroke-linecap="round"/>
<rect x="831.3" y="295.5" width="99.3" height="36.8" rx="2.5" fill="#fff" stroke="#555" stroke-width="1"/>
<path d="M737.4,291.5 L737.4,296.0" fill="none" stroke="#fff" stroke-width="4.2" stroke-linejoin="round" stroke-linecap="round"/>
<path d="M737.4,266.0 L737.4,295.5" fill="none" stroke="#111" stroke-width="1.7" stroke-linejoin="round" stroke-linecap="round"/>
<path d="M794.6,294.5 L794.6,299.0" fill="none" stroke="#fff" stroke-width="4.2" stroke-linejoin="round" stroke-linecap="round"/>
<path d="M794.6,266.0 L794.6,298.5" fill="none" stroke="#111" stroke-width="1.7" stroke-linejoin="round" stroke-linecap="round"/>
<path d="M968.8,291.5 L968.8,296.0" fill="none" stroke="#fff" stroke-width="4.2" stroke-linejoin="round" stroke-linecap="round"/>
<path d="M968.8,266.0 L968.8,295.5" fill="none" stroke="#111" stroke-width="1.7" stroke-linejoin="round" stroke-linecap="round"/>
<rect x="722.5" y="235.4" width="29.799999999999955" height="29.599999999999994" fill="#fff" stroke="#111" stroke-width="2"/>
<text x="737.4" y="258.8" font-size="23.5" font-weight="bold" text-anchor="middle" fill="#111" stroke="#111" stroke-width="0.4">R</text>
<rect x="779.8" y="235.4" width="29.700000000000045" height="29.599999999999994" fill="#fff" stroke="#111" stroke-width="2"/>
<text x="794.65" y="258.8" font-size="23.5" font-weight="bold" text-anchor="middle" fill="#111" stroke="#111" stroke-width="0.4">S</text>
<rect x="954.2" y="235.4" width="29.299999999999955" height="29.599999999999994" fill="#fff" stroke="#111" stroke-width="2"/>
<text x="968.85" y="258.8" font-size="23.5" font-weight="bold" text-anchor="middle" fill="#111" stroke="#111" stroke-width="0.4">R</text>
<path d="M410,583.2 C440,596 490,614 516,614.4 C540,614.5 565,605 579.6,583.6" fill="none" stroke="#222" stroke-width="0.9" stroke-linejoin="round" stroke-linecap="round"/>
<path d="M471.7,583.2 C490,588 505,591 516,590.8 C530,590.5 542,587 549.3,583.6" fill="none" stroke="#222" stroke-width="0.9" stroke-linejoin="round" stroke-linecap="round"/>
<path d="M579.6,583.6 L577.6,766.7" fill="none" stroke="#222" stroke-width="0.8" stroke-linejoin="round" stroke-linecap="round"/>
<path d="M333.5,584 L334,593" fill="none" stroke="#222" stroke-width="0.8" stroke-linejoin="round" stroke-linecap="round"/>
<path d="M353.9,765.7 C358,755 364,747 370.9,744.8 C378,741.5 385,740.3 392.5,740.5 C408,741 425,745.5 437.3,749.4" fill="none" stroke="#222" stroke-width="0.9" stroke-linejoin="round" stroke-linecap="round"/>
<path d="M475.2,761.5 L492.2,766.7" fill="none" stroke="#222" stroke-width="0.9" stroke-linejoin="round" stroke-linecap="round"/>
<path d="M337.4,707.9 L337.4,765.9" fill="none" stroke="#222" stroke-width="0.8" stroke-linejoin="round" stroke-linecap="round"/>
<path d="M440.4,732.4 C428,728 418,724 412,716 C408.5,710 407.5,705 407.5,700 V636 C407.5,627 412,622.5 421,622.5 H489 C498,622.5 503,628 503,637 V724 C503,735 497,741 487,741 L472.3,740.5" fill="none" stroke="#222" stroke-width="0.9" stroke-linejoin="round" stroke-linecap="round"/>
<text x="430" y="641" font-size="8" text-anchor="middle" fill="#222" textLength="23" lengthAdjust="spacingAndGlyphs">SNOW</text>
<text x="478" y="641" font-size="8" text-anchor="middle" fill="#222" textLength="21" lengthAdjust="spacingAndGlyphs">TRAIL</text>
<circle cx="455.5" cy="684" r="36.3" fill="#c8c8c8" stroke="#222" stroke-width="1.2"/>
<circle cx="455.5" cy="684" r="33.5" fill="none" stroke="#333" stroke-width="0.9"/>
<circle cx="455.5" cy="684" r="27.2" fill="none" stroke="#222" stroke-width="1.1"/>
<text x="455.5" y="682" font-size="7.5" text-anchor="middle" fill="#333">PUSH</text>
<text x="455.5" y="691" font-size="7.5" text-anchor="middle" fill="#333">NORMAL</text>
<path d="M456.4,710.0 L456.4,715.0" fill="none" stroke="#fff" stroke-width="4.2" stroke-linejoin="round" stroke-linecap="round"/>
<path d="M456.4,734.0 L456.4,710.5" fill="none" stroke="#111" stroke-width="1.7" stroke-linejoin="round" stroke-linecap="round"/>
<rect x="441.4" y="735" width="29.900000000000034" height="29.700000000000045" fill="#fff" stroke="#111" stroke-width="2"/>
<text x="456.35" y="758.45" font-size="23.5" font-weight="bold" text-anchor="middle" fill="#111" stroke="#111" stroke-width="0.4">N</text>
<path d="M523.3,662 V638 A10.5,10.5 0 0 1 533.8,627.5 H560.5 A11,11 0 0 1 571.5,638.5 V662 C571.5,663.3 570.8,664 569.5,664 H525.3 C524,664 523.3,663.3 523.3,662 Z" fill="#c8c8c8" stroke="#111" stroke-width="1.3"/>
<circle cx="547.3" cy="643" r="3.8" fill="none" stroke="#222" stroke-width="1"/>
<path d="M541.8,639.3 C540.3,641.5 540.3,644.5 541.8,646.7 M552.8,639.3 C554.3,641.5 554.3,644.5 552.8,646.7" fill="none" stroke="#222" stroke-width="0.9" stroke-linejoin="round" stroke-linecap="round"/>
<text x="547.5" y="652.3" font-size="6.2" text-anchor="middle" fill="#222" textLength="17.5" lengthAdjust="spacingAndGlyphs">HOLD</text>
<path d="M523.5,664 V711 M571.5,664 V711" fill="none" stroke="#222" stroke-width="0.9" stroke-linejoin="round" stroke-linecap="round"/>
<path d="M524,711 V684 C524,678 528,674.7 535,674.7 H561 C567,674.7 571,678 571,684 V711" fill="none" stroke="#222" stroke-width="0.9" stroke-linejoin="round" stroke-linecap="round"/>
<path d="M523.3,711.5 H571.5 V757 C571.5,762 568,765 562.5,764 C550,760 537,754 527.5,748 C524.5,746 523.3,744 523.3,740 Z" fill="#c8c8c8" stroke="#111" stroke-width="1.3"/>
<path d="M524.5,712.5 L527,718.8 H567 L570.5,712.5" fill="none" stroke="#222" stroke-width="0.8" stroke-linejoin="round" stroke-linecap="round"/>
<path d="M526.8,718.8 V739 C526.8,743 530,745.5 536,748 C545,752 553,755 558,756 C563,757 566.5,755 567,751 V718.8" fill="none" stroke="#222" stroke-width="0.9" stroke-linejoin="round" stroke-linecap="round"/>
<rect x="541" y="723.4" width="12.5" height="2.2" rx="1" fill="#888" stroke="#333" stroke-width="0.5"/>
<circle cx="547.3" cy="735.5" r="5.2" fill="none" stroke="#222" stroke-width="1.1"/>
<text x="547.3" y="738.6" font-size="8" text-anchor="middle" fill="#222">P</text>
<path d="M540.2,730.5 C538.7,733.5 538.7,737.5 540.2,740.5 M554.4,730.5 C555.9,733.5 555.9,737.5 554.4,740.5" fill="none" stroke="#222" stroke-width="0.9" stroke-linejoin="round" stroke-linecap="round"/>
<path d="M561.5,652.0 L566.0,652.0" fill="none" stroke="#fff" stroke-width="4.2" stroke-linejoin="round" stroke-linecap="round"/>
<path d="M562.5,737.5 L567.0,737.5" fill="none" stroke="#fff" stroke-width="4.2" stroke-linejoin="round" stroke-linecap="round"/>
<path d="M562.0,652.0 L584.6,652.0" fill="none" stroke="#111" stroke-width="1.7" stroke-linejoin="round" stroke-linecap="round"/>
<path d="M563.0,737.5 L584.0,737.5" fill="none" stroke="#111" stroke-width="1.7" stroke-linejoin="round" stroke-linecap="round"/>
<rect x="585.6" y="637" width="30.299999999999955" height="29.899999999999977" fill="#fff" stroke="#111" stroke-width="2"/>
<text x="600.75" y="660.5500000000001" font-size="23.5" font-weight="bold" text-anchor="middle" fill="#111" stroke="#111" stroke-width="0.4">L</text>
<rect x="585" y="723" width="29.5" height="29.200000000000045" fill="#fff" stroke="#111" stroke-width="2"/>
<text x="599.75" y="746.2" font-size="23.5" font-weight="bold" text-anchor="middle" fill="#111" stroke="#111" stroke-width="0.4">M</text>
<path d="M180,580 H284.4 V603 L301,611.4 L284.4,619.4 V642 L301,649.5 L284.4,656.8 V679 H180 Z" fill="#fff" stroke="#111" stroke-width="2.3" stroke-linejoin="miter"/>
<path d="M231.6,667 V597 A11,11 0 0 1 242.6,586 H265 A11,11 0 0 1 276,597 V667 Z" fill="#c8c8c8" stroke="#222" stroke-width="1.1"/>
<path d="M231.6,628.4 H276" fill="none" stroke="#222" stroke-width="1.0" stroke-linejoin="round" stroke-linecap="round"/>
<path d="M231.6,667 V673 M276,667 V673" fill="none" stroke="#222" stroke-width="0.9" stroke-linejoin="round" stroke-linecap="round"/>
<path d="M231.6,666.6 H276" fill="none" stroke="#222" stroke-width="1.0" stroke-linejoin="round" stroke-linecap="round"/>
<rect x="243.6" y="627.0" width="20.8" height="2.8" rx="1.4" fill="#fff" stroke="#333" stroke-width="0.8"/>
<rect x="243.6" y="665.2" width="20.8" height="2.8" rx="1.4" fill="#fff" stroke="#333" stroke-width="0.8"/>
<text x="254" y="608.5" font-size="7.5" text-anchor="middle" fill="#222" textLength="18" lengthAdjust="spacingAndGlyphs">DRIVE</text>
<text x="254" y="615" font-size="7.5" text-anchor="middle" fill="#222" textLength="18" lengthAdjust="spacingAndGlyphs">MODE</text>
<path d="M250.5,638.6 H256.5 L257.8,641 H249.2 Z" fill="none" stroke="#222" stroke-width="0.8" stroke-linejoin="round" stroke-linecap="round"/>
<rect x="248.6" y="640.8" width="9.8" height="2.6" rx="0.6" fill="#222"/>
<path d="M253,644 L249,646 L253,648.2 M258,644 L254,646 L258,648.2" fill="none" stroke="#222" stroke-width="0.8" stroke-linejoin="round" stroke-linecap="round"/>
<text x="253.5" y="656.6" font-size="6.2" text-anchor="middle" fill="#222" textLength="8.5" lengthAdjust="spacingAndGlyphs">OFF</text>
<path d="M236.0,611.4 L241.5,611.4" fill="none" stroke="#fff" stroke-width="4.2" stroke-linejoin="round" stroke-linecap="round"/>
<path d="M236.0,650.0 L241.5,650.0" fill="none" stroke="#fff" stroke-width="4.2" stroke-linejoin="round" stroke-linecap="round"/>
<path d="M223.6,611.4 L241.1,611.4" fill="none" stroke="#111" stroke-width="1.7" stroke-linejoin="round" stroke-linecap="round"/>
<path d="M223.6,650.0 L241.1,650.0" fill="none" stroke="#111" stroke-width="1.7" stroke-linejoin="round" stroke-linecap="round"/>
<rect x="192.4" y="596.4" width="30.19999999999999" height="30.0" fill="#fff" stroke="#111" stroke-width="2"/>
<text x="207.5" y="620.0" font-size="23.5" font-weight="bold" text-anchor="middle" fill="#111" stroke="#111" stroke-width="0.4">P</text>
<rect x="192.4" y="637" width="30.19999999999999" height="29.399999999999977" fill="#fff" stroke="#111" stroke-width="2"/>
<text x="207.5" y="660.3000000000001" font-size="23.5" font-weight="bold" text-anchor="middle" fill="#111" stroke="#111" stroke-width="0.4">G</text>
<path d="M349,697 V597 A11,11 0 0 1 360,586 H383 A11,11 0 0 1 394,597 V705 C394,711 391,713 386,712 C375,709 362,705 355,702 C351,700.5 349,699 349,697 Z" fill="#c8c8c8" stroke="#222" stroke-width="1.1"/>
<path d="M349,628 H394 M349,666.6 H394" fill="none" stroke="#222" stroke-width="1.0" stroke-linejoin="round" stroke-linecap="round"/>
<rect x="361" y="626.6" width="21" height="2.8" rx="1.4" fill="#fff" stroke="#333" stroke-width="0.8"/>
<rect x="361" y="665.2" width="21" height="2.8" rx="1.4" fill="#fff" stroke="#333" stroke-width="0.8"/>
<text x="361.3" y="606.3" font-size="9" fill="#222" textLength="4.6" lengthAdjust="spacingAndGlyphs">P</text>
<circle cx="371.7" cy="611.6" r="6" fill="none" stroke="#222" stroke-width="1.5"/>
<path d="M366,610.8 H377.4" fill="none" stroke="#222" stroke-width="1.4" stroke-linejoin="round" stroke-linecap="round"/>
<path d="M369,611.5 L371.7,617 L374.4,611.5 Z" fill="#222" stroke="#222" stroke-width="1.0" stroke-linejoin="round" stroke-linecap="round"/>
<text x="371" y="647.2" font-size="7.5" text-anchor="middle" fill="#222" textLength="17.5" lengthAdjust="spacingAndGlyphs">DRIVE</text>
<text x="371" y="653.7" font-size="7.5" text-anchor="middle" fill="#222" textLength="17.5" lengthAdjust="spacingAndGlyphs">MODE</text>
<text x="371" y="685.5" font-size="10" font-weight="bold" font-style="italic" text-anchor="middle" fill="#222" textLength="15" lengthAdjust="spacingAndGlyphs">EV</text>
<text x="371" y="694" font-size="7.5" text-anchor="middle" fill="#222" textLength="17" lengthAdjust="spacingAndGlyphs">MODE</text>
<path d="M351.0,611.4 L357.0,611.4" fill="none" stroke="#fff" stroke-width="4.2" stroke-linejoin="round" stroke-linecap="round"/>
<path d="M338.0,611.4 L356.4,611.4" fill="none" stroke="#111" stroke-width="1.7" stroke-linejoin="round" stroke-linecap="round"/>
<path d="M351.0,650.0 L357.0,650.0" fill="none" stroke="#fff" stroke-width="4.2" stroke-linejoin="round" stroke-linecap="round"/>
<path d="M338.0,650.0 L356.4,650.0" fill="none" stroke="#111" stroke-width="1.7" stroke-linejoin="round" stroke-linecap="round"/>
<path d="M351.0,688.0 L357.0,688.0" fill="none" stroke="#fff" stroke-width="4.2" stroke-linejoin="round" stroke-linecap="round"/>
<path d="M338.0,688.0 L356.4,688.0" fill="none" stroke="#111" stroke-width="1.7" stroke-linejoin="round" stroke-linecap="round"/>
<rect x="307.4" y="597.4" width="29.600000000000023" height="29.600000000000023" fill="#fff" stroke="#111" stroke-width="2"/>
<text x="322.2" y="620.8000000000001" font-size="23.5" font-weight="bold" text-anchor="middle" fill="#111" stroke="#111" stroke-width="0.4">O</text>
<rect x="307.4" y="636" width="29.600000000000023" height="29.600000000000023" fill="#fff" stroke="#111" stroke-width="2"/>
<text x="322.2" y="659.4" font-size="23.5" font-weight="bold" text-anchor="middle" fill="#111" stroke="#111" stroke-width="0.4">P</text>
<rect x="307.4" y="674.4" width="29.600000000000023" height="29.600000000000023" fill="#fff" stroke="#111" stroke-width="2"/>
<text x="322.2" y="696.2" font-size="23.5" font-weight="bold" text-anchor="middle" fill="#111" stroke="#111" stroke-width="0.4">Q</text>
<rect x="119.95" y="801.35" width="26.0" height="23.9" fill="none" stroke="#111" stroke-width="1.6"/>
<text x="132.95" y="823.2" font-size="18.5" font-weight="bold" text-anchor="middle" fill="#111" stroke="#111" stroke-width="0.45">A</text>
<text x="160.5" y="823" font-size="23" font-weight="normal" fill="#111" stroke="#111" stroke-width="0.3" textLength="374.4" lengthAdjust="spacingAndGlyphs" xml:space="preserve"><tspan>Fensterverriegelungsschalter S. 150</tspan></text>
<rect x="119.95" y="842.9499999999999" width="26.0" height="23.9" fill="none" stroke="#111" stroke-width="1.6"/>
<text x="132.95" y="863.8" font-size="18.5" font-weight="bold" text-anchor="middle" fill="#111" stroke="#111" stroke-width="0.45">B</text>
<text x="160.5" y="863.9" font-size="23" font-weight="normal" fill="#111" stroke="#111" stroke-width="0.3" textLength="294.1" lengthAdjust="spacingAndGlyphs" xml:space="preserve"><tspan>Außenspiegelschalter S. 148</tspan></text>
<rect x="119.95" y="884.65" width="26.0" height="23.9" fill="none" stroke="#111" stroke-width="1.6"/>
<text x="132.95" y="906.0" font-size="18.5" font-weight="bold" text-anchor="middle" fill="#111" stroke="#111" stroke-width="0.45">C</text>
<text x="160.5" y="905.9" font-size="23" font-weight="normal" fill="#111" stroke="#111" stroke-width="0.3" textLength="369.6" lengthAdjust="spacingAndGlyphs" xml:space="preserve"><tspan>Zentralverriegelungsschalter S. 117</tspan></text>
<rect x="119.95" y="926.35" width="26.0" height="23.9" fill="none" stroke="#111" stroke-width="1.6"/>
<text x="132.95" y="946.9" font-size="18.5" font-weight="bold" text-anchor="middle" fill="#111" stroke="#111" stroke-width="0.45">D</text>
<text x="160.5" y="947.1" font-size="23" font-weight="normal" fill="#111" stroke="#111" stroke-width="0.3" textLength="292.2" lengthAdjust="spacingAndGlyphs" xml:space="preserve"><tspan>Fensterheberschalter S. 150</tspan></text>
<rect x="119.95" y="967.85" width="26.0" height="23.9" fill="none" stroke="#111" stroke-width="1.6"/>
<text x="132.95" y="985.3" font-size="18.5" font-weight="bold" text-anchor="middle" fill="#111" stroke="#111" stroke-width="0.45">E</text>
<text x="159.7" y="985.7" font-size="23" font-weight="normal" fill="#111" stroke="#111" stroke-width="0.3" textLength="236.9" lengthAdjust="spacingAndGlyphs" xml:space="preserve"><tspan>Regler für die manuelle</tspan></text>
<text x="159.7" y="1012.8" font-size="23" font-weight="normal" fill="#111" stroke="#111" stroke-width="0.3" textLength="347.2" lengthAdjust="spacingAndGlyphs" xml:space="preserve"><tspan>Leuchtweitenregulierung</tspan><tspan font-size="15" dy="-10">*1</tspan><tspan font-size="23" dy="10">S. 185</tspan></text>
<rect x="119.95" y="1033.5500000000002" width="26.0" height="23.9" fill="none" stroke="#111" stroke-width="1.6"/>
<text x="132.95" y="1051.4" font-size="18.5" font-weight="bold" text-anchor="middle" fill="#111" stroke="#111" stroke-width="0.45">F</text>
<text x="158.4" y="1050.1" font-size="23" font-weight="normal" fill="#111" stroke="#111" stroke-width="0.3" textLength="199.2" lengthAdjust="spacingAndGlyphs" xml:space="preserve"><tspan>Kameraschalter</tspan><tspan font-size="15" dy="-10">*1, 2</tspan></text>
<rect x="119.95" y="1070.45" width="26.0" height="23.9" fill="none" stroke="#111" stroke-width="1.6"/>
<text x="132.95" y="1089.2" font-size="18.5" font-weight="bold" text-anchor="middle" fill="#111" stroke="#111" stroke-width="0.45">G</text>
<text x="161.5" y="1088.3" font-size="23" font-weight="normal" fill="#111" stroke="#111" stroke-width="0.3" textLength="184.7" lengthAdjust="spacingAndGlyphs" xml:space="preserve"><tspan>VSC OFF-Schalter</tspan></text>
<text x="161.5" y="1114.6" font-size="23" font-weight="normal" fill="#111" stroke="#111" stroke-width="0.3" textLength="375.1" lengthAdjust="spacingAndGlyphs" xml:space="preserve"><tspan>(Fahrdynamiksteuerung AUS) S. 323</tspan></text>
<rect x="119.95" y="1135.3500000000001" width="26.0" height="23.9" fill="none" stroke="#111" stroke-width="1.6"/>
<text x="132.95" y="1156.3" font-size="18.5" font-weight="bold" text-anchor="middle" fill="#111" stroke="#111" stroke-width="0.45">H</text>
<text x="161.5" y="1155.8" font-size="23" font-weight="normal" fill="#111" stroke="#111" stroke-width="0.3" textLength="300.3" lengthAdjust="spacingAndGlyphs" xml:space="preserve"><tspan>Heckklappenschalter</tspan><tspan font-size="15" dy="-10">*1</tspan><tspan font-size="23" dy="10">S. 122</tspan></text>
<rect x="119.95" y="1177.0500000000002" width="26.0" height="23.9" fill="none" stroke="#111" stroke-width="1.6"/>
<text x="132.95" y="1194.3" font-size="18.5" font-weight="bold" text-anchor="middle" fill="#111" stroke="#111" stroke-width="0.45">I</text>
<text x="152" y="1193.9" font-size="23" font-weight="normal" fill="#111" stroke="#111" stroke-width="0.3" textLength="239.0" lengthAdjust="spacingAndGlyphs" xml:space="preserve"><tspan>Frontscheibenwischer-</tspan></text>
<text x="152" y="1221.5" font-size="23" font-weight="normal" fill="#111" stroke="#111" stroke-width="0.3" textLength="221.6" lengthAdjust="spacingAndGlyphs" xml:space="preserve"><tspan>Enteisertaste</tspan><tspan font-size="15" dy="-10">*1</tspan><tspan font-size="23" dy="10">S. 197</tspan></text>
<rect x="119.95" y="1242.25" width="26.0" height="23.9" fill="none" stroke="#111" stroke-width="1.6"/>
<text x="132.95" y="1262.7" font-size="18.5" font-weight="bold" text-anchor="middle" fill="#111" stroke="#111" stroke-width="0.45">J</text>
<text x="157.6" y="1262.2" font-size="23" font-weight="normal" fill="#111" stroke="#111" stroke-width="0.3" textLength="315.4" lengthAdjust="spacingAndGlyphs" xml:space="preserve"><tspan>Lenkradheizungstaste</tspan><tspan font-size="15" dy="-10">*1</tspan><tspan font-size="23" dy="10">S. 340</tspan></text>
<rect x="119.95" y="1283.95" width="26.0" height="23.9" fill="none" stroke="#111" stroke-width="1.6"/>
<text x="132.95" y="1301.3" font-size="18.5" font-weight="bold" text-anchor="middle" fill="#111" stroke="#111" stroke-width="0.45">K</text>
<text x="160.7" y="1300.8" font-size="23" font-weight="normal" fill="#111" stroke="#111" stroke-width="0.3" textLength="255.8" lengthAdjust="spacingAndGlyphs" xml:space="preserve"><tspan>AHS-Schalter (Adaptives</tspan></text>
<text x="160.7" y="1327.8" font-size="23" font-weight="normal" fill="#111" stroke="#111" stroke-width="0.3" textLength="257.1" lengthAdjust="spacingAndGlyphs" xml:space="preserve"><tspan>Fernlichtsystem)</tspan><tspan font-size="15" dy="-10">*1</tspan><tspan font-size="23" dy="10">S. 193</tspan></text>
<text x="160.7" y="1354.9" font-size="23" font-weight="normal" fill="#111" stroke="#111" stroke-width="0.3" textLength="162.7" lengthAdjust="spacingAndGlyphs" xml:space="preserve"><tspan>Schalter für den</tspan></text>
<text x="160.7" y="1383.2" font-size="23" font-weight="normal" fill="#111" stroke="#111" stroke-width="0.3" textLength="295.1" lengthAdjust="spacingAndGlyphs" xml:space="preserve"><tspan>Fernlichtassistenten</tspan><tspan font-size="15" dy="-10">*1</tspan><tspan font-size="23" dy="10">S. 193</tspan></text>
<rect x="616.9499999999999" y="801.4499999999999" width="26.0" height="23.9" fill="none" stroke="#111" stroke-width="1.6"/>
<text x="629.9499999999999" y="819.8" font-size="18.5" font-weight="bold" text-anchor="middle" fill="#111" stroke="#111" stroke-width="0.45">L</text>
<text x="656" y="819.6" font-size="23" font-weight="normal" fill="#111" stroke="#111" stroke-width="0.3" textLength="386.1" lengthAdjust="spacingAndGlyphs" xml:space="preserve"><tspan>HOLD-Schalter (Bremshaltefunktion)</tspan></text>
<text x="656" y="844.9" font-size="23" font-weight="normal" fill="#111" stroke="#111" stroke-width="0.3" textLength="62.8" lengthAdjust="spacingAndGlyphs" xml:space="preserve"><tspan>S. 183</tspan></text>
<rect x="616.9499999999999" y="867.15" width="26.0" height="23.9" fill="none" stroke="#111" stroke-width="1.6"/>
<text x="629.9499999999999" y="888.3" font-size="18.5" font-weight="bold" text-anchor="middle" fill="#111" stroke="#111" stroke-width="0.45">M</text>
<text x="660.4" y="887.9" font-size="23" font-weight="normal" fill="#111" stroke="#111" stroke-width="0.3" textLength="303.8" lengthAdjust="spacingAndGlyphs" xml:space="preserve"><tspan>Feststellbremsschalter S. 180</tspan></text>
<text x="657.8" y="914.9" font-size="23" font-weight="normal" fill="#111" stroke="#111" stroke-width="0.3" textLength="240.1" lengthAdjust="spacingAndGlyphs" xml:space="preserve"><tspan>Anziehen/Lösen S. 180</tspan></text>
<text x="657.8" y="942.5" font-size="23" font-weight="normal" fill="#111" stroke="#111" stroke-width="0.3" textLength="384.3" lengthAdjust="spacingAndGlyphs" xml:space="preserve"><tspan>Vorsichtsmaßregeln im Winter S. 331</tspan></text>
<text x="657.8" y="969.8" font-size="23" font-weight="normal" fill="#111" stroke="#111" stroke-width="0.3" textLength="349.7" lengthAdjust="spacingAndGlyphs" xml:space="preserve"><tspan>Warnsummer/-leuchte/-meldung</tspan></text>
<text x="657.8" y="998.6" font-size="23" font-weight="normal" fill="#111" stroke="#111" stroke-width="0.3" textLength="137.6" lengthAdjust="spacingAndGlyphs" xml:space="preserve"><tspan>S. 425, S. 425</tspan></text>
<rect x="616.9499999999999" y="1020.65" width="26.0" height="23.9" fill="none" stroke="#111" stroke-width="1.6"/>
<text x="629.9499999999999" y="1039.0" font-size="18.5" font-weight="bold" text-anchor="middle" fill="#111" stroke="#111" stroke-width="0.45">N</text>
<text x="657.8" y="1038.5" font-size="23" font-weight="normal" fill="#111" stroke="#111" stroke-width="0.3" textLength="223.6" lengthAdjust="spacingAndGlyphs" xml:space="preserve"><tspan>TRAIL-Modusschalter</tspan></text>
<text x="657.8" y="1064.3" font-size="23" font-weight="normal" fill="#111" stroke="#111" stroke-width="0.3" textLength="311.6" lengthAdjust="spacingAndGlyphs" xml:space="preserve"><tspan>(Pistenmodus)</tspan><tspan font-size="15" dy="-10">*3</tspan><tspan font-size="23" dy="10">S. 319, S. 320</tspan></text>
<rect x="616.9499999999999" y="1085.3500000000001" width="26.0" height="23.9" fill="none" stroke="#111" stroke-width="1.6"/>
<text x="629.9499999999999" y="1103.7" font-size="18.5" font-weight="bold" text-anchor="middle" fill="#111" stroke="#111" stroke-width="0.45">O</text>
<text x="659" y="1103.5" font-size="23" font-weight="normal" fill="#111" stroke="#111" stroke-width="0.3" textLength="339.8" lengthAdjust="spacingAndGlyphs" xml:space="preserve"><tspan>Hauptschalter für Advanced Park</tspan></text>
<text x="659" y="1129.7" font-size="23" font-weight="normal" fill="#111" stroke="#111" stroke-width="0.3" textLength="343.9" lengthAdjust="spacingAndGlyphs" xml:space="preserve"><tspan>(Ein-/Ausparkautomatik)</tspan><tspan font-size="15" dy="-10">*1</tspan><tspan font-size="23" dy="10">S. 292</tspan></text>
<rect x="616.9499999999999" y="1151.0500000000002" width="26.0" height="23.9" fill="none" stroke="#111" stroke-width="1.6"/>
<text x="629.9499999999999" y="1172.2" font-size="18.5" font-weight="bold" text-anchor="middle" fill="#111" stroke="#111" stroke-width="0.45">P</text>
<text x="657.8" y="1171.7" font-size="23" font-weight="normal" fill="#111" stroke="#111" stroke-width="0.3" textLength="331.1" lengthAdjust="spacingAndGlyphs" xml:space="preserve"><tspan>Fahrmodus-Wahlschalter S. 318</tspan></text>
<rect x="616.9499999999999" y="1192.25" width="26.0" height="23.9" fill="none" stroke="#111" stroke-width="1.6"/>
<text x="629.9499999999999" y="1213.4" font-size="18.5" font-weight="bold" text-anchor="middle" fill="#111" stroke="#111" stroke-width="0.45">Q</text>
<text x="659" y="1212.9" font-size="23" font-weight="normal" fill="#111" stroke="#111" stroke-width="0.3" textLength="307.3" lengthAdjust="spacingAndGlyphs" xml:space="preserve"><tspan>EV-Fahrmodusschalter S. 176</tspan></text>
<rect x="616.9499999999999" y="1233.65" width="26.0" height="23.9" fill="none" stroke="#111" stroke-width="1.6"/>
<text x="629.9499999999999" y="1254.8" font-size="18.5" font-weight="bold" text-anchor="middle" fill="#111" stroke="#111" stroke-width="0.45">R</text>
<text x="657.8" y="1254.4" font-size="23" font-weight="normal" fill="#111" stroke="#111" stroke-width="0.3" textLength="368.2" lengthAdjust="spacingAndGlyphs" xml:space="preserve"><tspan>Schalter für die Sitzheizung</tspan><tspan font-size="15" dy="-10">*1</tspan><tspan font-size="23" dy="10">S. 340</tspan></text>
<rect x="616.9499999999999" y="1275.3500000000001" width="26.0" height="23.9" fill="none" stroke="#111" stroke-width="1.6"/>
<text x="629.9499999999999" y="1293.2" font-size="18.5" font-weight="bold" text-anchor="middle" fill="#111" stroke="#111" stroke-width="0.45">S</text>
<text x="657" y="1293.5" font-size="23" font-weight="normal" fill="#111" stroke="#111" stroke-width="0.3" textLength="150.3" lengthAdjust="spacingAndGlyphs" xml:space="preserve"><tspan>Schalter "DAC"</tspan></text>
<text x="657" y="1319.8" font-size="23" font-weight="normal" fill="#111" stroke="#111" stroke-width="0.3" textLength="300.0" lengthAdjust="spacingAndGlyphs" xml:space="preserve"><tspan>(Stabilitätskontrolle)</tspan><tspan font-size="15" dy="-10">*3</tspan><tspan font-size="23" dy="10">S. 320</tspan></text>
<rect x="120" y="1395.3" width="928.5" height="1.6" fill="#222"/>
<text x="120.3" y="1460.7" font-size="23" font-weight="normal" fill="#111" stroke="#111" stroke-width="0.3" textLength="181.6" lengthAdjust="spacingAndGlyphs" xml:space="preserve"><tspan font-size="15" dy="-10">*1</tspan><tspan font-size="23" dy="10">Falls vorhanden</tspan></text>
<text x="120.3" y="1501.9" font-size="23" font-weight="normal" fill="#111" stroke="#111" stroke-width="0.3" textLength="530.8" lengthAdjust="spacingAndGlyphs" xml:space="preserve"><tspan font-size="15" dy="-10">*2</tspan><tspan font-size="23" dy="10">Siehe “Multimediasystem-Bedienungsanleitung”.</tspan></text>
<text x="120.3" y="1543.6" font-size="23" font-weight="normal" fill="#111" stroke="#111" stroke-width="0.3" textLength="282.0" lengthAdjust="spacingAndGlyphs" xml:space="preserve"><tspan font-size="15" dy="-10">*3</tspan><tspan font-size="23" dy="10">Modelle mit Allradantrieb</tspan></text>
<text x="120.3" y="1605.6" font-size="22.5" font-weight="bold" fill="#111" stroke="#111" stroke-width="0.6" textLength="25.0" lengthAdjust="spacingAndGlyphs" xml:space="preserve"><tspan>14</tspan></text>
</svg>
</body></html>
